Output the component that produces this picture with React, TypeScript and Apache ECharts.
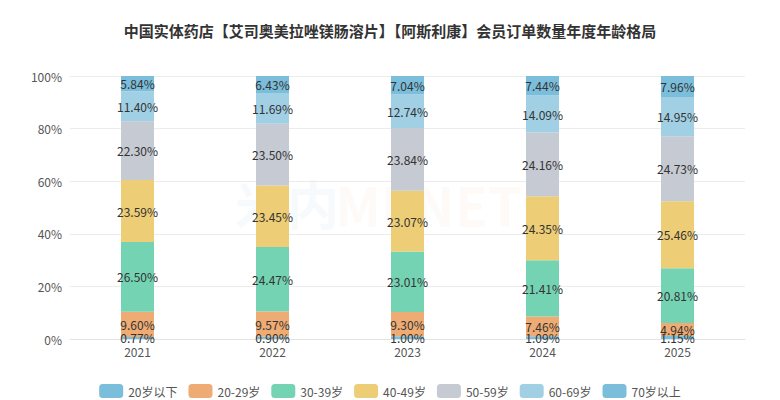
import React, { useEffect, useRef } from "react";
import * as echarts from "echarts";

const title = "中国实体药店【艾司奥美拉唑镁肠溶片】【阿斯利康】会员订单数量年度年龄格局";
const years = ["2021", "2022", "2023", "2024", "2025"];
const seriesNames = ["20岁以下", "20-29岁", "30-39岁", "40-49岁", "50-59岁", "60-69岁", "70岁以上"];
const under20 = [0.77, 0.9, 1.0, 1.09, 1.15];
const age20s = [9.6, 9.57, 9.3, 7.46, 4.94];
const age30s = [26.5, 24.47, 23.01, 21.41, 20.81];
const age40s = [23.59, 23.45, 23.07, 24.35, 25.46];
const age50s = [22.3, 23.5, 23.84, 24.16, 24.73];
const age60s = [11.4, 11.69, 12.74, 14.09, 14.95];
const over70 = [5.84, 6.43, 7.04, 7.44, 7.96];
const colors = ["#7bbedb", "#eeac74", "#74d3b3", "#edcd75", "#c6cad2", "#a1d0e5", "#7bbedb"];

export default function App() {
  const ref = useRef<HTMLDivElement>(null);
  useEffect(() => {
    if (!ref.current) return;
    const chart = echarts.init(ref.current, null, { renderer: "svg" });
    const all = [under20, age20s, age30s, age40s, age50s, age60s, over70];
    const font = "'Noto Sans CJK SC', 'Noto Sans', sans-serif";
    chart.setOption({
      animation: false,
      textStyle: { fontFamily: font },
      title: {
        text: title,
        left: "center",
        top: 10,
        textStyle: { fontSize: 15, fontWeight: "bold", color: "#333", fontFamily: font },
      },
      graphic: [
        {
          type: "text",
          left: 227,
          top: 168,
          z: -10,
          style: {
            text: "米内",
            fontSize: 52,
            fontWeight: "bold",
            fill: "rgba(120,170,200,0.06)",
            fontFamily: font,
          },
        },
        {
          type: "text",
          left: 327,
          top: 168,
          z: -10,
          style: {
            text: "MENET",
            fontSize: 54,
            fontWeight: "bold",
            fill: "rgba(240,150,90,0.05)",
            fontFamily: font,
          },
        },
      ],
      legend: {
        top: 371,
        left: "center",
        itemWidth: 24,
        itemHeight: 14,
        itemGap: 11,
        icon: "roundRect",
        textStyle: { color: "#555", fontSize: 12 },
        data: seriesNames,
      },
      grid: { left: 62, right: 27, top: 68, bottom: 61 },
      xAxis: {
        type: "category",
        data: years,
        axisLine: { lineStyle: { color: "#e3e3e3" } },
        axisTick: { show: false },
        axisLabel: { color: "#555", fontSize: 12, margin: 6 },
      },
      yAxis: {
        type: "value",
        min: 0,
        max: 100,
        interval: 20,
        axisLabel: { formatter: "{value}%", color: "#555", fontSize: 12 },
        axisLine: { show: false },
        axisTick: { show: false },
        splitLine: { lineStyle: { color: "#ececec" } },
      },
      series: seriesNames.map((name, i) => ({
        name,
        type: "bar",
        stack: "total",
        barWidth: 33,
        itemStyle: { color: colors[i] },
        label: {
          show: true,
          position: "inside",
          color: "#333",
          fontSize: 12,
          formatter: (p: any) => Number(p.value).toFixed(2) + "%",
        },
        data: all[i],
      })),
    });
    return () => chart.dispose();
  }, []);
  return <div ref={ref} style={{ width: 764, height: 392 }} />;
}
